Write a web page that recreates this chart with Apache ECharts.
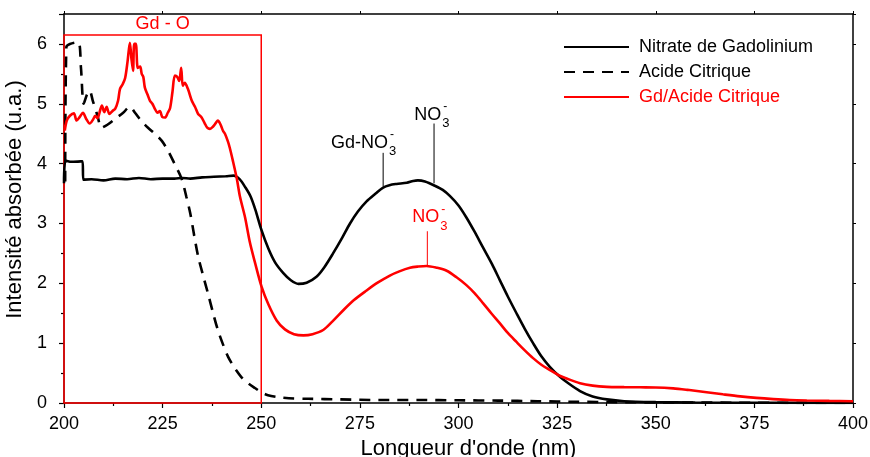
<!DOCTYPE html>
<html>
<head>
<meta charset="utf-8">
<script src="https://cdn.jsdelivr.net/npm/echarts@6/dist/echarts.min.js"></script>
<style>
html,body{margin:0;padding:0;background:#fff;}
#chart{width:870px;height:457px;}
</style>
</head>
<body>
<div id="chart"></div>
<script>
// ---------------- DATA ----------------
const xTicks = [200, 225, 250, 275, 300, 325, 350, 375, 400];
const yTicks = [0, 1, 2, 3, 4, 5, 6];

const seriesNames = ['Nitrate de Gadolinium', 'Acide Citrique', 'Gd/Acide Citrique'];

// Nitrate de Gadolinium [wavelength nm, absorbance]
const nitrate = [
  [200,3.67],[200.4,4.05],[202,4.03],[204.7,4.04],[204.9,3.73],[207,3.74],[210,3.72],[213,3.75],
  [216,3.74],[219,3.76],[222,3.74],[225,3.75],[228,3.75],[230,3.76],[232,3.75],[235,3.77],
  [238,3.78],[241,3.79],[243,3.8],[244.5,3.74],[246,3.6],[247.3,3.45],[248.5,3.23],[250,2.9],
  [251.8,2.58],[253.5,2.35],[255.6,2.17],[257.5,2.05],[259.4,1.99],[261.5,2.01],[264,2.11],
  [266,2.27],[268.2,2.5],[270.5,2.76],[272.5,3.0],[274.5,3.2],[276.7,3.37],[279,3.5],
  [280.9,3.6],[282.5,3.64],[284.3,3.66],[286.9,3.68],[288.5,3.71],[289.7,3.72],[291.5,3.7],
  [294,3.63],[296,3.56],[297.8,3.46],[300,3.3],[302,3.1],[304,2.87],[306.2,2.6],[308.5,2.32],
  [310.5,2.05],[312.5,1.78],[314.7,1.5],[316.8,1.24],[318.9,1.0],[321,0.78],[323.2,0.6],
  [325.5,0.45],[327.4,0.35],[330.8,0.2],[334,0.11],[337.6,0.06],[342,0.03],[350,0.015],
  [360,0.008],[380,0.003],[400,0.0]
];

// Acide Citrique
const citrique = [
  [200.3,3.7],[200.6,5.95],[201.5,6.0],[203.6,6.03],[204.3,5.6],[205,5.0],[205.8,5.15],
  [206.5,5.22],[207.3,5.05],[208.5,4.8],[209.5,4.6],[211,4.65],[213,4.75],[215,4.85],
  [216.7,4.95],[218,4.85],[219.5,4.72],[221.3,4.6],[223,4.5],[224.8,4.38],[226.5,4.2],
  [228,4.0],[229.8,3.75],[231,3.45],[232,3.17],[233,2.8],[234,2.45],[235.3,2.12],[236.5,1.83],
  [237.8,1.5],[239,1.22],[240.3,0.98],[241.6,0.77],[243.3,0.58],[245,0.43],[246.7,0.33],
  [248.4,0.25],[250,0.18],[251.7,0.13],[254,0.1],[257,0.08],[262,0.07],[270,0.06],[280,0.05],
  [290,0.05],[300,0.045],[310,0.04],[320,0.03],[330,0.02],[340,0.015],[350,0.01],[370,0.005],
  [400,0.0]
];

// Gd/Acide Citrique
const gdCitrique = [
  [200.2,4.55],[200.7,4.72],[201.5,4.8],[202.5,4.84],[203.2,4.72],[204,4.78],[204.8,4.85],
  [205.6,4.75],[206.5,4.67],[207.4,4.74],[207.9,4.8],[208.5,4.76],[209.2,4.9],[209.6,4.97],
  [210.2,4.86],[210.8,4.95],[211.5,4.83],[212.3,4.88],[213,4.92],[213.7,5.05],[214.2,5.25],
  [214.9,5.33],[215.5,5.43],[216.1,5.7],[216.7,6.02],[217.1,5.75],[217.5,5.55],[217.8,6.0],
  [218.2,6.0],[218.7,5.6],[219.3,5.62],[219.7,5.5],[220.1,5.45],[220.5,5.27],[221.2,5.15],
  [221.8,5.05],[222.4,5.0],[223,4.92],[223.7,4.85],[224.3,4.88],[224.9,4.78],[225.6,4.77],
  [226.3,4.85],[226.9,4.93],[227.5,5.2],[228.1,5.47],[228.7,5.45],[229.2,5.38],[229.7,5.6],
  [230.1,5.3],[230.6,5.35],[231.4,5.25],[232.4,5.05],[233.2,4.95],[234,4.83],[234.8,4.78],
  [235.7,4.67],[236.3,4.6],[237,4.58],[237.8,4.62],[238.5,4.68],[239,4.72],[239.7,4.65],
  [240.3,4.55],[240.8,4.5],[241.5,4.38],[242,4.27],[242.8,4.05],[243.8,3.75],[244.6,3.45],
  [245.9,3.1],[247.1,2.69],[248.4,2.35],[250.1,1.94],[251.8,1.65],[253.9,1.38],[256,1.23],
  [258.3,1.15],[260.7,1.13],[263,1.15],[265.7,1.22],[268,1.36],[270.8,1.55],[273.5,1.72],
  [276.7,1.88],[279.5,2.01],[282.6,2.13],[285,2.2],[287.7,2.26],[289.8,2.28],[291.9,2.29],
  [294.5,2.26],[297,2.21],[299.5,2.1],[302,1.97],[304,1.84],[306.2,1.67],[308.3,1.5],
  [310.5,1.33],[312.5,1.17],[314.7,1.02],[316.8,0.88],[318.9,0.75],[321,0.64],[323.2,0.55],
  [325.5,0.46],[327.4,0.41],[330.8,0.33],[334,0.29],[337.6,0.27],[342,0.265],[346,0.262],
  [350,0.26],[354.4,0.245],[358,0.22],[362.9,0.18],[367,0.145],[371.4,0.11],[375.5,0.085],
  [379.8,0.065],[384,0.05],[388.3,0.042],[394,0.035],[400,0.03]
];

// Highlighted "Gd - O" region [x0, x1, yTop]
const boxRegionX = [200, 250];
const boxRegionYTop = 6.15;
const boxLabel = 'Gd - O';

// Annotations (peak markers)
const annText = ['Gd-NO', 'NO', 'NO'];
const annTextX = [282.1, 295.6, 295.1];
const annTextY = [4.35, 4.82, 3.10];
const annLineX = [280.9, 293.8, 292.1];
const annLineYBottom = [3.62, 3.67, 2.28];
const annLineYTop = [4.18, 4.67, 2.87];

// ---------------- CHART ----------------
const FONT = '"Liberation Sans", Arial, sans-serif';
const RED = '#ff0000';
const annColors = ['#000', '#000', RED];

const chart = echarts.init(document.getElementById('chart'), null, {renderer: 'canvas'});

const baseLine = (name, data, color, type) => ({
  name, type: 'line', data, symbol: 'none', smooth: 0.3,
  lineStyle: {color, width: 2.6, type: type || 'solid'},
  itemStyle: {color},
  z: 3, animation: false
});

const series = [
  baseLine(seriesNames[0], nitrate, '#000'),
  baseLine(seriesNames[1], citrique, '#000', [11, 8]),
  Object.assign(baseLine(seriesNames[2], gdCitrique, RED), {
    markArea: {
      silent: true,
      itemStyle: {color: 'rgba(0,0,0,0)', borderColor: RED, borderWidth: 1.5},
      label: {show: true, position: 'top', distance: 1, color: RED, fontSize: 18, fontFamily: FONT},
      data: [[{name: boxLabel, coord: [boxRegionX[0], 0]}, {coord: [boxRegionX[1], boxRegionYTop]}]]
    }
  })
];

// annotation lines
annLineX.forEach((x, i) => {
  series.push({
    name: 'ann' + i, type: 'line', symbol: 'none', silent: true, animation: false,
    data: [[x, annLineYBottom[i]], [x, annLineYTop[i]]],
    lineStyle: {color: annColors[i], width: 1}, z: 2
  });
});

// annotation texts: main text + subscript "3" + superscript "-"
const annData = [];
annText.forEach((t, i) => {
  const pos = [annTextX[i], annTextY[i]];
  const col = annColors[i];
  annData.push({value: pos, label: {formatter: t, align: 'right', verticalAlign: 'middle', offset: [0, 0], fontSize: 18, color: col}});
  annData.push({value: pos, label: {formatter: '3', align: 'left', verticalAlign: 'middle', offset: [1, 9], fontSize: 13, color: col}});
  annData.push({value: pos, label: {formatter: '-', align: 'left', verticalAlign: 'middle', offset: [2, -8], fontSize: 12, color: col}});
});
series.push({
  name: 'annText', type: 'scatter', symbolSize: 0, silent: true, animation: false, z: 5,
  itemStyle: {opacity: 1},
  data: annData,
  label: {show: true, position: [0, 0], fontFamily: FONT, color: '#000', textBorderWidth: 0}
});

const axisCommon = {
  axisLine: {show: true, onZero: false, lineStyle: {color: '#000', width: 1.5}},
  splitLine: {show: false}
};

chart.setOption({
  animation: false,
  textStyle: {fontFamily: FONT},
  grid: {left: 64, right: 17, top: 14, bottom: 54, containLabel: false, outerBoundsMode: 'none'},
  legend: {
    orient: 'vertical', left: 558, top: 32,
    itemWidth: 65, itemHeight: 14, itemGap: 5,
    itemStyle: {color: 'rgba(0,0,0,0)', borderWidth: 0, opacity: 0},
    textStyle: {fontSize: 18, color: '#000', fontFamily: FONT, lineHeight: 20, padding: [0, 0, 0, 5]},
    data: [
      {name: seriesNames[0]},
      {name: seriesNames[1]},
      {name: seriesNames[2], textStyle: {color: RED}}
    ]
  },
  xAxis: [
    Object.assign({
      type: 'value', position: 'bottom', min: xTicks[0], max: xTicks[xTicks.length - 1],
      interval: xTicks[1] - xTicks[0],
      name: "Longueur d'onde (nm)", nameLocation: 'middle', nameGap: 29,
      nameTextStyle: {fontSize: 22, color: '#000', fontFamily: FONT, padding: [0, 0, 0, 20]},
      axisTick: {show: true, length: 5, lineStyle: {color: '#000', width: 1.2}},
      minorTick: {show: true, splitNumber: 2, length: 3, lineStyle: {color: '#000', width: 1.2}},
      axisLabel: {fontSize: 18, color: '#000', margin: 12, fontFamily: FONT}
    }, axisCommon),
    Object.assign({
      type: 'value', position: 'top', min: xTicks[0], max: xTicks[xTicks.length - 1],
      interval: xTicks[1] - xTicks[0],
      axisTick: {show: true, length: 3, lineStyle: {color: '#000'}},
      axisLabel: {show: false}
    }, axisCommon)
  ],
  yAxis: [
    Object.assign({
      type: 'value', position: 'left', min: yTicks[0], max: 6.5, interval: 1,
      name: 'Intensité absorbée (u.a.)', nameLocation: 'middle', nameGap: 30,
      nameTextStyle: {fontSize: 22, color: '#000', fontFamily: FONT, padding: [0, 0, 0, 18]},
      axisTick: {show: true, length: 5, lineStyle: {color: '#000', width: 1.2}},
      minorTick: {show: true, splitNumber: 2, length: 3, lineStyle: {color: '#000', width: 1.2}},
      axisLabel: {fontSize: 18, color: '#000', margin: 17, showMaxLabel: false, fontFamily: FONT}
    }, axisCommon),
    Object.assign({
      type: 'value', position: 'right', min: yTicks[0], max: 6.5, interval: 1,
      axisTick: {show: true, length: 3, lineStyle: {color: '#000'}},
      axisLabel: {show: false}
    }, axisCommon)
  ],
  series
});
</script>
</body>
</html>
